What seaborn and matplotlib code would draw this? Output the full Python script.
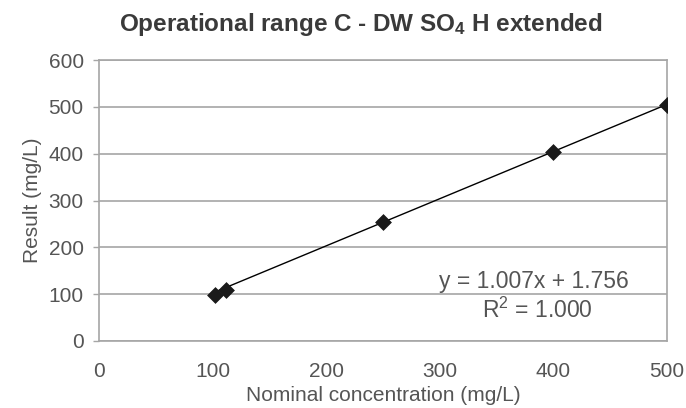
import matplotlib
matplotlib.use("Agg")
import matplotlib.pyplot as plt
import seaborn as sns
import numpy as np
import pandas as pd

# Data
nominal = [102, 112, 250, 400, 500]
result = [98, 109, 254, 403, 503]
slope = 1.007
intercept = 1.756
equation_label = "y = 1.007x + 1.756"
r2_label = r"R$\mathregular{^2}$ = 1.000"
title = r"Operational range C - DW SO$\mathregular{_4}$ H extended"
x_ticks = [0, 100, 200, 300, 400, 500]
y_ticks = [0, 100, 200, 300, 400, 500, 600]

sns.set_theme(style="white")
plt.rcParams["font.family"] = ["Liberation Sans", "DejaVu Sans"]

df = pd.DataFrame({"nominal": nominal, "result": result})
trend_x = [min(nominal), max(nominal)]
trend = pd.DataFrame({"x": trend_x, "y": [slope * v + intercept for v in trend_x]})

fig = plt.figure(figsize=(6.86, 4.08), dpi=100)
ax = fig.add_axes([99/686, 1 - 341/408, (667-99)/686, (341-60)/408])

grid_c = "#a6a6a6"
txt_c = "#555555"
fs = 15

sns.lineplot(data=trend, x="x", y="y", ax=ax, color="black", linewidth=1.0, zorder=3)
sns.scatterplot(data=df, x="nominal", y="result", ax=ax, marker="D", s=65,
                color="#1a1a1a", edgecolor="#1a1a1a", linewidth=0.5, zorder=4)

ax.set_xlim(0, 500)
ax.set_ylim(0, 600)
ax.set_xticks(x_ticks)
ax.set_yticks(y_ticks)
ax.yaxis.grid(True, color=grid_c, linewidth=1.2)
ax.xaxis.grid(False)
for s in ax.spines.values():
    s.set_color(grid_c)
    s.set_linewidth(1.2)
    s.set_visible(True)

ax.tick_params(axis="y", which="both", left=True, length=4, width=1, color=grid_c,
               labelsize=fs, labelcolor=txt_c, pad=7)
ax.tick_params(axis="x", which="both", bottom=False, labelsize=fs, labelcolor=txt_c, pad=9)

ax.set_xlabel("Nominal concentration (mg/L)", fontsize=fs, color=txt_c, labelpad=4)
ax.set_ylabel("Result (mg/L)", fontsize=fs, color=txt_c, labelpad=5)

ax.text(383, 126, equation_label, fontsize=16.5, color=txt_c, ha="center", va="center")
ax.text(386, 66, r2_label, fontsize=16.5, color=txt_c, ha="center", va="center")

fig.text(361/686, 1 - 24/408, title, fontsize=17.5, fontweight="bold", color="#3a3a3a",
         ha="center", va="center")

fig.savefig("out.png", dpi=100)
